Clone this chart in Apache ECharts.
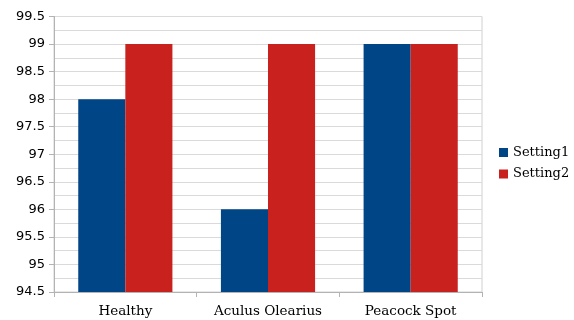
<!DOCTYPE html>
<html>
<head>
<meta charset="utf-8">
<script src="https://cdn.jsdelivr.net/npm/echarts@6/dist/echarts.min.js"></script>
<style>
  html, body { margin: 0; padding: 0; background: #ffffff; }
  #chart { width: 574px; height: 320px; }
</style>
</head>
<body>
<div id="chart"></div>
<script>
// Categories and per-setting values
var categories = ['Healthy', 'Aculus Olearius', 'Peacock Spot'];
var setting1 = [98, 96, 99];
var setting2 = [99, 99, 99];
var seriesNames = ['Setting1', 'Setting2'];

var chart = echarts.init(document.getElementById('chart'), null, { renderer: 'canvas' });

var gridColor = '#dadada';
var axisColor = '#b3b3b3';

chart.setOption({
  animation: false,
  backgroundColor: '#ffffff',
  grid: {
    left: 54, right: 92, top: 16.5, bottom: 28,
    show: true, borderColor: '#d0d0d0', borderWidth: 1, backgroundColor: 'transparent'
  },
  legend: {
    orient: 'vertical',
    left: 499, top: 146, padding: 0,
    itemWidth: 9, itemHeight: 9, itemGap: 8.5,
    icon: 'rect',
    textStyle: { fontFamily: 'DejaVu Serif', fontSize: 13, color: '#000000' },
    data: seriesNames
  },
  xAxis: {
    type: 'category',
    data: categories,
    axisLine: { lineStyle: { color: axisColor, width: 1 } },
    axisTick: { show: true, length: 5, lineStyle: { color: axisColor } },
    axisLabel: { fontFamily: 'DejaVu Serif', fontSize: 13.5, color: '#000000', margin: 12 }
  },
  yAxis: {
    type: 'value',
    min: 94.5, max: 99.5, interval: 0.5,
    axisLine: { show: true, lineStyle: { color: axisColor, width: 1 } },
    axisTick: { show: true, length: 5, lineStyle: { color: axisColor } },
    axisLabel: { fontFamily: 'DejaVu Sans', fontSize: 13, color: '#000000', margin: 9 },
    splitLine: { show: true, lineStyle: { color: gridColor, width: 1 } },
    minorTick: { show: false, splitNumber: 2 },
    minorSplitLine: { show: true, lineStyle: { color: gridColor, width: 1 } }
  },
  series: [
    {
      name: seriesNames[0], type: 'bar', data: setting1,
      barGap: '0%', barCategoryGap: '34%',
      itemStyle: { color: '#004586' }
    },
    {
      name: seriesNames[1], type: 'bar', data: setting2,
      barGap: '0%', barCategoryGap: '34%',
      itemStyle: { color: '#c9211e' }
    }
  ]
});
</script>
</body>
</html>
